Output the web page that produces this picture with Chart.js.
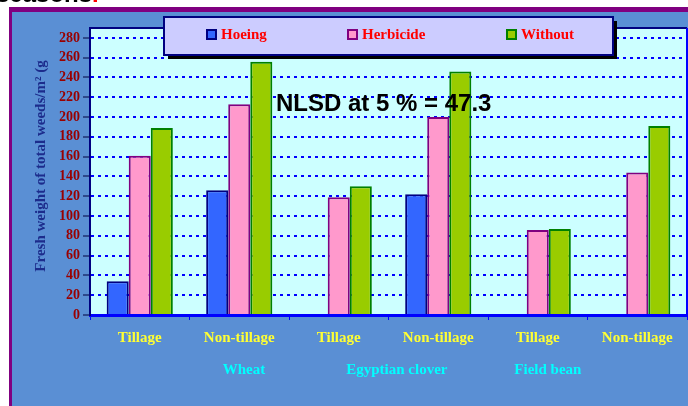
<!DOCTYPE html>
<html>
<head>
<meta charset="utf-8">
<script src="https://cdn.jsdelivr.net/npm/chart.js@4.4.0/dist/chart.umd.min.js"></script>
<style>
html, body { margin: 0; padding: 0; background: #fff; }
</style>
</head>
<body>
<canvas id="myChart" width="688" height="406"></canvas>
<script>
// data
const categories = ['Tillage', 'Non-tillage', 'Tillage', 'Non-tillage', 'Tillage', 'Non-tillage'];
const crops = ['Wheat', 'Egyptian clover', 'Field bean'];
const hoeing = [34, 126, null, 122, null, null];
const herbicide = [161, 213, 119, 200, 86, 144];
const without = [189, 256, 130, 246, 87, 191];
const yTicks = [0, 20, 40, 60, 80, 100, 120, 140, 160, 180, 200, 220, 240, 260, 280];
const seriesNames = ['Hoeing', 'Herbicide', 'Without'];
const nlsdText = 'NLSD at 5 % = 47.3';
const yTitle = 'Fresh weight of total weeds/m\u00B2 (g';

const serif = '"Liberation Serif", "Times New Roman", serif';
const sans = '"Liberation Sans", Arial, sans-serif';

const fills = ['#3366ff', '#ff99cc', '#99cc00'];
const borders = ['#000080', '#800080', '#008000'];

const decor = {
	id: 'decor',
	beforeDraw(chart) {
		const { ctx, chartArea: a } = chart;
		ctx.save();
		ctx.fillStyle = '#ffffff';
		ctx.fillRect(0, 0, chart.width, chart.height);
		// outer frame
		ctx.fillStyle = '#800080';
		ctx.fillRect(9, 7, 700, 420);
		ctx.fillStyle = '#5a8fd4';
		ctx.fillRect(12, 12, 700, 420);
		// plot background
		ctx.fillStyle = '#ccffff';
		ctx.fillRect(a.left, a.top, a.right - a.left, a.bottom - a.top);
		ctx.restore();
	},
	afterDraw(chart) {
		const { ctx, chartArea: a } = chart;
		ctx.save();
		// plot border top + right
		ctx.strokeStyle = '#000080';
		ctx.lineWidth = 2;
		ctx.beginPath();
		ctx.moveTo(a.left, a.top);
		ctx.lineTo(a.right, a.top);
		ctx.stroke();
		ctx.strokeStyle = '#0000ff';
		ctx.beginPath();
		ctx.moveTo(a.right, a.top);
		ctx.lineTo(a.right, a.bottom);
		ctx.stroke();

		// header remnant (cut off at the top)
		ctx.font = 'bold 24px ' + sans;
		ctx.textBaseline = 'alphabetic';
		ctx.fillStyle = '#000';
		ctx.fillText('seasons', -4, 2);
		const w = ctx.measureText('seasons').width;
		ctx.fillStyle = '#ff0000';
		ctx.fillText('.', -4 + w, 2);

		// legend box
		const lx = 164, ly = 17, lw = 449, lh = 38;
		ctx.fillStyle = '#000';
		ctx.fillRect(lx + 4, ly + 4, lw, lh);
		ctx.fillStyle = '#ccccff';
		ctx.fillRect(lx, ly, lw, lh);
		ctx.strokeStyle = '#000080';
		ctx.lineWidth = 2;
		ctx.strokeRect(lx, ly, lw, lh);
		const itemX = [207, 348, 507];
		ctx.font = 'bold 15px ' + serif;
		ctx.textBaseline = 'middle';
		seriesNames.forEach((n, i) => {
			ctx.fillStyle = fills[i];
			ctx.fillRect(itemX[i], 30, 9, 9);
			ctx.strokeStyle = borders[i];
			ctx.lineWidth = 2;
			ctx.strokeRect(itemX[i], 30, 9, 9);
			ctx.fillStyle = '#ff0000';
			ctx.fillText(n, itemX[i] + 14, 35);
		});

		// NLSD note
		ctx.font = 'bold 24px ' + sans;
		ctx.fillStyle = '#000';
		ctx.textBaseline = 'alphabetic';
		ctx.fillText(nlsdText, 276, 111);

		// y title
		ctx.save();
		ctx.translate(41, 166);
		ctx.rotate(-Math.PI / 2);
		ctx.font = 'bold 15px ' + serif;
		ctx.fillStyle = '#1c2c8c';
		ctx.textAlign = 'center';
		ctx.textBaseline = 'middle';
		ctx.fillText(yTitle, 0, 0);
		ctx.restore();

		// crop labels (second row)
		const fr = [0.258, 0.514, 0.767];
		ctx.font = 'bold 15px ' + serif;
		ctx.fillStyle = '#00ffff';
		ctx.textAlign = 'center';
		ctx.textBaseline = 'middle';
		crops.forEach((c, i) => {
			ctx.fillText(c, a.left + fr[i] * (a.right - a.left), 370);
		});
		ctx.restore();
	}
};

const ctx = document.getElementById('myChart').getContext('2d');
new Chart(ctx, {
	type: 'bar',
	data: {
		labels: categories,
		datasets: [hoeing, herbicide, without].map((d, i) => ({
			label: seriesNames[i],
			data: d,
			backgroundColor: fills[i],
			borderColor: borders[i],
			borderWidth: 2,
			barPercentage: 1,
			categoryPercentage: 0.665
		}))
	},
	options: {
		responsive: false,
		animation: false,
		layout: { padding: { top: 28, left: 0, right: 1, bottom: 0 } },
		plugins: {
			legend: { display: false },
			tooltip: { enabled: false }
		},
		scales: {
			x: {
				afterFit: s => { s.height = 91; },
				grid: {
					offset: true,
					drawOnChartArea: false,
					color: '#0000ff',
					tickLength: 5,
					lineWidth: 1
				},
				border: { color: '#0000ff', width: 3 },
				ticks: {
					color: '#ffff33',
					padding: 9,
					font: { family: serif, weight: 'bold', size: 15 }
				}
			},
			y: {
				min: 0,
				max: 290,
				afterFit: s => { s.width = 90; },
				afterBuildTicks: s => { s.ticks = yTicks.map(v => ({ value: v })); },
				grid: {
					color: c => (c.tick && c.tick.value === 0) ? 'rgba(0,0,0,0)' : '#0000ff',
					lineWidth: 2,
					tickLength: 7,
					tickColor: '#000040',
					tickWidth: 1,
					tickBorderDash: [1, 0]
				},
				border: { color: '#000080', width: 2, dash: [3, 4] },
				ticks: {
					color: '#990000',
					padding: 3,
					font: { family: serif, weight: 'bold', size: 14 }
				}
			}
		}
	},
	plugins: [decor]
});
</script>
</body>
</html>
